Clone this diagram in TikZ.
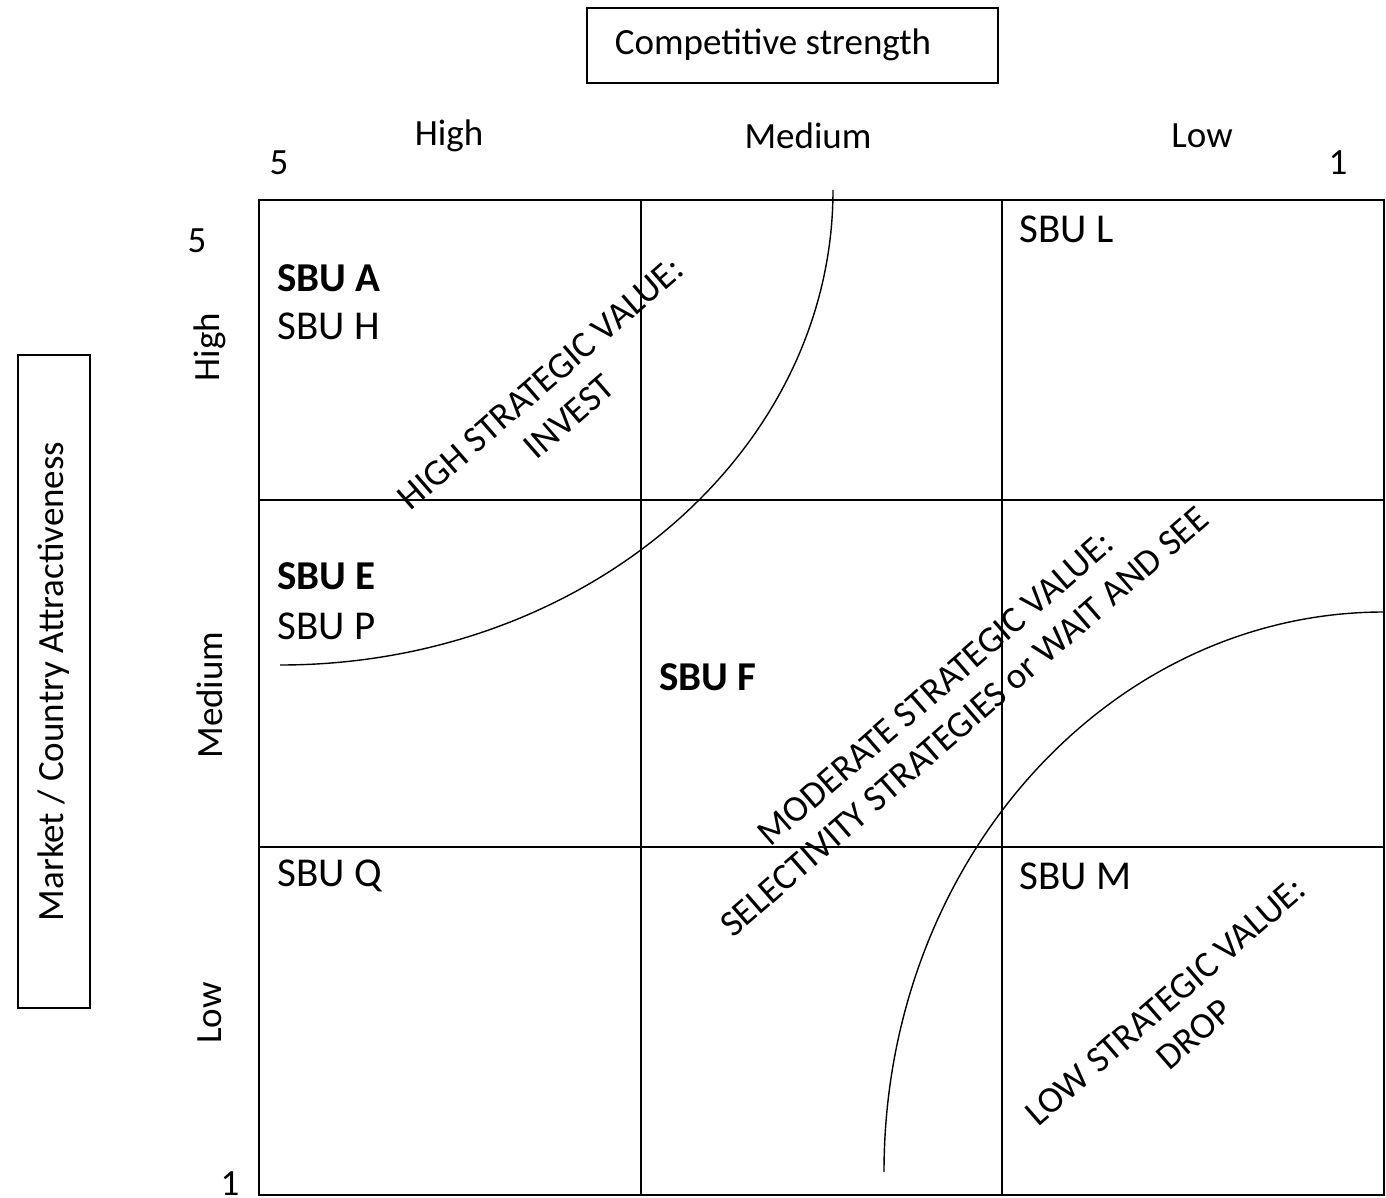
\documentclass[tikz,border=0pt]{standalone}
\usepackage{fontspec}
\setmainfont{Carlito}
\begin{document}
\begin{tikzpicture}[x=0.5pt,y=-0.5pt,
	txt/.style={font=\fontsize{18.5}{22}\selectfont, inner sep=0pt},
	sbu/.style={txt, font=\fontsize{20.5}{24}\selectfont, anchor=west},
	wert/.style={txt, align=center, rotate=41},
	linie/.style={draw=black, line width=1pt}]
	\useasboundingbox (0,0) rectangle (1386,1198);
	% Achsentitel
	\draw[linie] (587,8) rectangle (998,83);
	\node[txt] (staerke) at (773,45) {Competitive strength};
	\node[txt, draw, line width=1pt, rotate=90, minimum width=326.5pt,
	minimum height=36pt] (markt) at (54,681.5) {Market / Country Attractiveness};
	% Spalten oben
	\node[txt] (hoch) at (449,136) {High};
	\node[txt] (mittel) at (808,136) {Medium};
	\node[txt] (niedrig) at (1202,136) {Low};
	\node[txt] (fuenfx) at (279,163) {5};
	\node[txt] (einsx) at (1338,163) {1};
	% Zeilen links
	\node[txt, rotate=90] (zhoch) at (210,347) {High};
	\node[txt, rotate=90] (zmittel) at (210,695) {Medium};
	\node[txt, rotate=90] (zniedrig) at (210,1013) {Low};
	\node[txt] (fuenfy) at (197,241) {5};
	\node[txt] (einsy) at (230,1184) {1};
	% Raster
	\draw[linie] (259,200) rectangle (1384,1195);
	\foreach \x in {641,1002}
		\draw[linie] (\x,200) -- (\x,1195);
	\foreach \y in {500,847}
		\draw[linie] (259,\y) -- (1384,\y);
	% Bögen
	\draw[line width=0.7pt] (833,190) arc[start angle=0, end angle=90,
	x radius=553, y radius=475];
	\draw[line width=0.7pt] (884,1172) arc[start angle=180, end angle=270,
	x radius=500, y radius=560];
	% Geschäftseinheiten
	\node[sbu] (sbua) at (277,278) {\textbf{SBU A}};
	\node[sbu] (sbuh) at (277,326) {SBU H};
	\node[sbu] (sbul) at (1019,229) {SBU L};
	\node[sbu] (sbue) at (277,576) {\textbf{SBU E}};
	\node[sbu] (sbup) at (277,626) {SBU P};
	\node[sbu] (sbuf) at (659,677) {\textbf{SBU F}};
	\node[sbu] (sbuq) at (277,876) {SBU Q};
	\node[sbu] (sbum) at (1019,876) {SBU M};
	% Strategische Werte
	\node[wert] (wertA) at (555,400) {HIGH STRATEGIC VALUE:\\INVEST};
	\node[wert] (wertB) at (950,705) {MODERATE STRATEGIC VALUE:\\SELECTIVITY
	STRATEGIES or WAIT AND SEE};
	\node[wert] (wertC) at (1180,1018) {LOW STRATEGIC VALUE:\\DROP};
\end{tikzpicture}
\end{document}
